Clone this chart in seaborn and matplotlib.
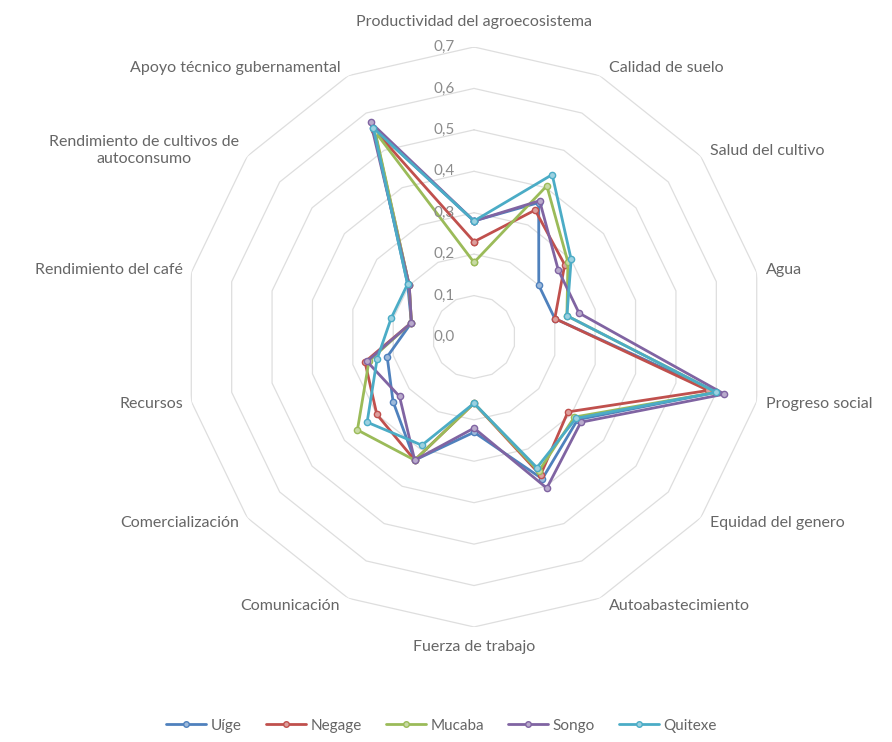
import numpy as np
import pandas as pd
import matplotlib
matplotlib.use("Agg")
import matplotlib.pyplot as plt
import matplotlib.colors as mcolors
import seaborn as sns

categorias = ["Productividad del agroecosistema", "Calidad de suelo", "Salud del cultivo",
              "Agua", "Progreso social", "Equidad del genero", "Autoabastecimiento",
              "Fuerza de trabajo", "Comunicación", "Comercialización", "Recursos",
              "Rendimiento del café", "Rendimiento de cultivos de\nautoconsumo",
              "Apoyo técnico gubernamental"]

uige    = [0.28, 0.36, 0.20, 0.20, 0.60, 0.32, 0.38, 0.23, 0.33, 0.25, 0.215, 0.155, 0.205, 0.56]
negage  = [0.23, 0.34, 0.28, 0.20, 0.58, 0.29, 0.37, 0.16, 0.33, 0.30, 0.27, 0.155, 0.20, 0.555]
mucaba  = [0.18, 0.405, 0.29, 0.23, 0.60, 0.31, 0.36, 0.16, 0.33, 0.36, 0.26, 0.155, 0.20, 0.55]
songo   = [0.28, 0.365, 0.26, 0.26, 0.62, 0.33, 0.405, 0.22, 0.33, 0.23, 0.265, 0.155, 0.20, 0.575]
quitexe = [0.28, 0.435, 0.30, 0.23, 0.60, 0.315, 0.35, 0.16, 0.29, 0.33, 0.24, 0.205, 0.205, 0.56]

series_names = ["Uíge", "Negage", "Mucaba", "Songo", "Quitexe"]
series_vals = [uige, negage, mucaba, songo, quitexe]
colores = ["#4F81BD", "#C0504D", "#9BBB59", "#8064A2", "#4BACC6"]
ticks = [0.0, 0.1, 0.2, 0.3, 0.4, 0.5, 0.6, 0.7]
tick_labels = ["0,0", "0,1", "0,2", "0,3", "0,4", "0,5", "0,6", "0,7"]

n = len(categorias)
angles = np.arange(n) * 2 * np.pi / n
closed = np.append(angles, 2 * np.pi)

rows = []
for name, vals in zip(series_names, series_vals):
    for th, v in zip(closed, list(vals) + [vals[0]]):
        rows.append({"Municipio": name, "theta": th, "valor": v})
df = pd.DataFrame(rows)

sns.set_style("white")
plt.rcParams["font.family"] = ["Lato", "DejaVu Sans"]

fig = plt.figure(figsize=(8.92, 7.42), dpi=100)
ax = fig.add_axes([0.2063, 0.155, 0.6502, 0.7817], projection="polar")
ax.set_theta_zero_location("N")
ax.set_theta_direction(-1)
ax.set_ylim(0, 0.7)
ax.grid(False)
ax.spines["polar"].set_visible(False)
ax.set_xticks([])
ax.set_yticks([])

# polygonal gridlines
for t in ticks[1:]:
    ax.plot(closed, [t] * (n + 1), color="#DEDEDE", lw=0.9, zorder=0)
n_grid = len(ax.lines)

sns.lineplot(data=df, x="theta", y="valor", hue="Municipio", palette=colores,
             hue_order=series_names, sort=False, estimator=None, marker="o",
             markersize=4.5, linewidth=2.0, ax=ax, legend=True)

def lighter(c, f=0.45):
    r, g, b = mcolors.to_rgb(c)
    return (r + (1 - r) * f, g + (1 - g) * f, b + (1 - b) * f)

for ln in ax.lines[n_grid:]:
    c = ln.get_color()
    ln.set_markerfacecolor(lighter(c))
    ln.set_markeredgecolor(c)
    ln.set_markeredgewidth(1.0)

handles, labels = ax.get_legend_handles_labels()
ax.get_legend().remove()
for h in handles:
    c = h.get_color()
    h.set_markerfacecolor(lighter(c))
    h.set_markeredgecolor(c)
    h.set_markersize(4)
    h.set_linewidth(2.0)
fig.legend(handles, labels, loc="center", bbox_to_anchor=(0.495, 0.022), ncol=5,
           frameon=False, handlelength=2.6, handletextpad=0.3, columnspacing=1.6,
           fontsize=11, labelcolor="#666666")

ax.set_xlabel("")
ax.set_ylabel("")

# radial value labels
for t, lab in zip(ticks, tick_labels):
    ax.annotate(lab, xy=(0, t), xytext=(-19, 0), textcoords="offset pixels",
                ha="right", va="center", fontsize=11, color="#8C8C8C")

# category labels
for th, lab in zip(angles, categorias):
    s, c = np.sin(th), np.cos(th)
    if abs(s) < 0.05:
        ha = "center"
        dx = 0
        dy = 25 if c > 0 else -20
    else:
        ha = "left" if s > 0 else "right"
        dx = 9 if s > 0 else -8
        dy = 9 * c
    ax.annotate(lab, xy=(th, 0.7), xytext=(dx, dy), textcoords="offset pixels",
                ha=ha, va="center", multialignment="center", fontsize=11.5,
                color="#666666", annotation_clip=False)

fig.savefig("out.png", dpi=100, facecolor="white")
